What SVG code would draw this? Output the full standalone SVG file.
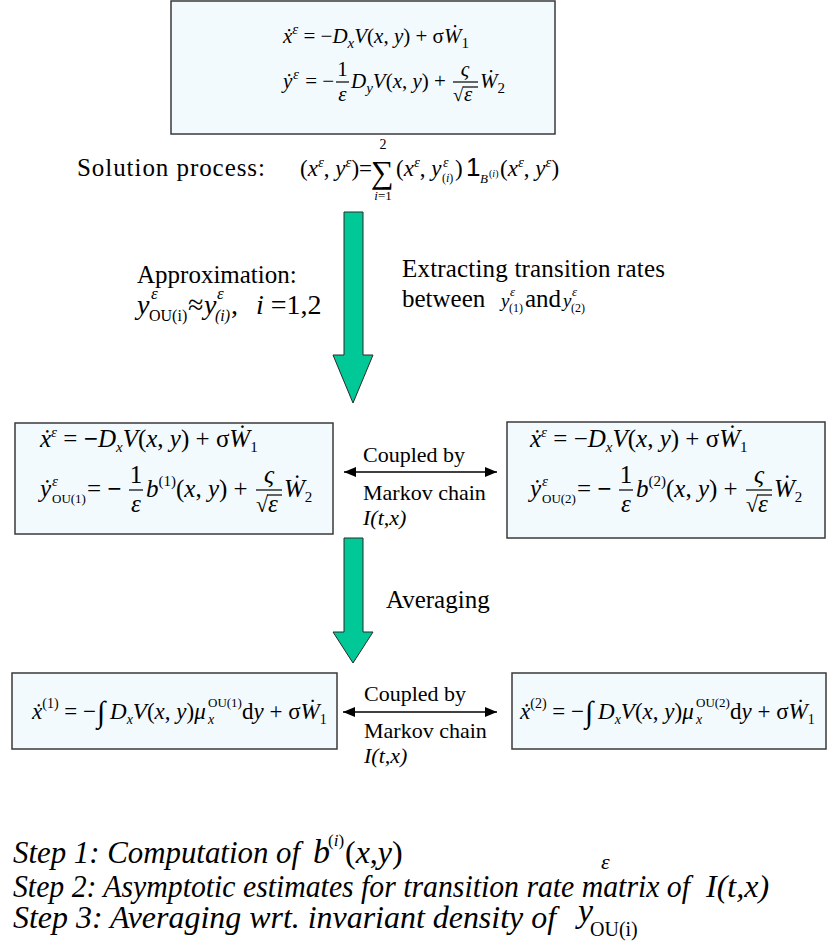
<svg xmlns="http://www.w3.org/2000/svg" width="828" height="942" viewBox="0 0 828 942">
<style>
.ki{font-style:italic}
.kbox{fill:#F3FAFD;stroke:#3a3a3a;stroke-width:1.5}
.kl{font-size:25px}
.kc{font-size:22px}
.ke{font-size:25px}
.kes{font-size:21px}
.ks{font-size:15px}
.kss{font-size:13px}
.kflow{fill:#00C896;stroke:#2a2a2a;stroke-width:1}
.klink{stroke:#000;stroke-width:1.4;fill:none;marker-start:url(#ah);marker-end:url(#ah)}
.kbar{stroke:#000;stroke-width:1.2}
.kst{font-size:32px;font-style:italic}
</style>
<defs>
<marker id="ah" viewBox="0 0 12 10" refX="12" refY="5" markerWidth="12" markerHeight="10" markerUnits="userSpaceOnUse" orient="auto-start-reverse"><path d="M0,0 L12,5 L0,10 z" fill="#000"/></marker>
</defs>

<g id="connectors">
<polygon class="kflow" points="344,212 363,212 363,355 373,355 353,403 333,355 344,355"/>
<polygon class="kflow" points="344,538 363,538 363,632 373,632 353,663 333,632 344,632"/>
<line class="klink" x1="344" y1="472" x2="497" y2="472"/>
<line class="klink" x1="343" y1="712" x2="497" y2="712"/>
</g>

<g id="top-system">
<rect class="kbox" x="171" y="1" width="384" height="133"/>
<text style="font-family:'Liberation Serif'" class="kes" x="283" y="43"><tspan class="ki">ẋ</tspan><tspan class="ki ks" dy="-9">ε</tspan><tspan dy="9"> = −</tspan><tspan class="ki">D</tspan><tspan class="ki ks" dy="5">x</tspan><tspan class="ki" dy="-5">V</tspan>(<tspan class="ki">x</tspan>, <tspan class="ki">y</tspan>) + σ<tspan class="ki">Ẇ</tspan><tspan class="ks" dy="5">1</tspan></text>
<text style="font-family:'Liberation Serif'" class="kes"><tspan x="283" y="88" class="ki">ẏ</tspan><tspan x="293" y="79" class="ki ks">ε</tspan><tspan x="300" y="88"> = −</tspan></text>
<line class="kbar" x1="336" y1="82" x2="349" y2="82"/>
<text style="font-family:'Liberation Serif'" class="kes" x="342.5" y="76" text-anchor="middle">1</text>
<text style="font-family:'Liberation Serif'" class="kes ki" x="342.5" y="101" text-anchor="middle">ε</text>
<text style="font-family:'Liberation Serif'" class="kes" x="351" y="88"><tspan class="ki">D</tspan><tspan class="ki ks" dy="5">y</tspan><tspan class="ki" dy="-5">V</tspan>(<tspan class="ki">x</tspan>, <tspan class="ki">y</tspan>) +</text>
<line class="kbar" x1="453" y1="82" x2="478" y2="82"/>
<text style="font-family:'Liberation Serif'" class="kes ki" x="465" y="76" text-anchor="middle">ς</text>
<text style="font-family:'Liberation Serif'" font-size="19" x="453" y="101">√</text>
<line class="kbar" x1="463" y1="87" x2="478" y2="87"/>
<text style="font-family:'Liberation Serif'" class="kes ki" x="464" y="101">ε</text>
<text style="font-family:'Liberation Serif'" class="kes" x="480" y="88"><tspan class="ki">Ẇ</tspan><tspan class="ks" dy="5">2</tspan></text>
</g>

<g id="solution-process">
<text style="font-family:'Liberation Serif'" class="kl" font-size="26" x="77" y="176" textLength="188" lengthAdjust="spacing">Solution process:</text>
<text style="font-family:'Liberation Serif'" font-size="23" x="300" y="176">(<tspan class="ki">x</tspan><tspan class="ki ks" dy="-9">ε</tspan><tspan dy="9">, </tspan><tspan class="ki">y</tspan><tspan class="ki ks" dy="-9">ε</tspan><tspan dy="9">)=</tspan></text>
<text style="font-family:'Liberation Serif'" font-size="32" x="371" y="183">∑</text>
<text style="font-family:'Liberation Serif'" font-size="14" x="383" y="149" text-anchor="middle">2</text>
<text style="font-family:'Liberation Serif'" font-size="13" x="383" y="200" text-anchor="middle"><tspan class="ki">i</tspan>=1</text>
<text style="font-family:'Liberation Serif'" font-size="23" x="396" y="176">(<tspan class="ki">x</tspan><tspan class="ki ks" dy="-9">ε</tspan><tspan dy="9">, </tspan><tspan class="ki">y</tspan></text>
<text style="font-family:'Liberation Serif'" class="ki" font-size="14" x="443" y="167">ε</text>
<text style="font-family:'Liberation Serif'" font-size="12" x="442" y="182">(<tspan class="ki">i</tspan>)</text>
<text style="font-family:'Liberation Serif'" font-size="23" x="455" y="176">)</text>
<text style="font-family:'Liberation Sans'" font-size="26" x="466" y="176">1</text>
<text style="font-family:'Liberation Serif'" class="ki" font-size="13" x="480" y="183">B</text>
<text style="font-family:'Liberation Serif'" font-size="10" x="489" y="177">(<tspan class="ki">i</tspan>)</text>
<text style="font-family:'Liberation Serif'" font-size="23" x="500" y="176">(<tspan class="ki">x</tspan><tspan class="ki ks" dy="-9">ε</tspan><tspan dy="9">, </tspan><tspan class="ki">y</tspan><tspan class="ki ks" dy="-9">ε</tspan><tspan dy="9">)</tspan></text>
</g>

<g id="approximation">
<text style="font-family:'Liberation Serif'" class="kl" x="137" y="283">Approximation:</text>
<text style="font-family:'Liberation Serif'" class="ki" font-size="28" x="137" y="314">y</text>
<text style="font-family:'Liberation Serif'" class="ki" font-size="17" x="151" y="299">ε</text>
<text style="font-family:'Liberation Serif'" font-size="16" x="149" y="321">OU(i)</text>
<text style="font-family:'Liberation Serif'" font-size="28" x="188" y="314">≈</text>
<text style="font-family:'Liberation Serif'" class="ki" font-size="28" x="204" y="314">y</text>
<text style="font-family:'Liberation Serif'" class="ki" font-size="17" x="217" y="299">ε</text>
<text style="font-family:'Liberation Serif'" class="ki" font-size="16" x="215" y="321">(i)</text>
<text style="font-family:'Liberation Serif'" font-size="28" x="231" y="314">,</text>
<text style="font-family:'Liberation Serif'" font-size="28" x="256" y="314"><tspan class="ki">i</tspan> =1,2</text>
</g>

<g id="extracting">
<text style="font-family:'Liberation Serif'" class="kl" x="402" y="277" textLength="263" lengthAdjust="spacing">Extracting transition rates</text>
<text style="font-family:'Liberation Serif'" class="kl" x="402" y="307">between</text>
<text style="font-family:'Liberation Serif'" class="ki" font-size="19" x="501" y="307">y</text>
<text style="font-family:'Liberation Serif'" class="ki" font-size="13" x="510" y="296">ε</text>
<text style="font-family:'Liberation Serif'" font-size="12" x="509" y="312">(1)</text>
<text style="font-family:'Liberation Serif'" class="kl" x="525" y="307">and</text>
<text style="font-family:'Liberation Serif'" class="ki" font-size="19" x="563" y="307">y</text>
<text style="font-family:'Liberation Serif'" class="ki" font-size="13" x="572" y="296">ε</text>
<text style="font-family:'Liberation Serif'" font-size="12" x="571" y="312">(2)</text>
</g>

<g id="ou-system-1">
<rect class="kbox" x="15" y="423" width="318" height="111"/>
<text style="font-family:'Liberation Serif'" class="ke" x="40" y="447"><tspan class="ki">ẋ</tspan><tspan class="ki ks" dy="-10">ε</tspan><tspan dy="10"> = </tspan><tspan font-weight="bold">−</tspan><tspan class="ki">D</tspan><tspan class="ki ks" dy="5">x</tspan><tspan class="ki" dy="-5">V</tspan>(<tspan class="ki">x</tspan>, <tspan class="ki">y</tspan>) + σ<tspan class="ki">Ẇ</tspan><tspan class="ks" dy="5">1</tspan></text>
<text style="font-family:'Liberation Serif'" class="ke ki" x="40" y="497">ẏ</text>
<text style="font-family:'Liberation Serif'" class="ki ks" x="52" y="486">ε</text>
<text style="font-family:'Liberation Serif'" class="kss" x="52" y="503">OU(1)</text>
<text style="font-family:'Liberation Serif'" class="ke" x="87" y="497"> = <tspan font-weight="bold">−</tspan></text>
<line class="kbar" x1="129" y1="490" x2="143" y2="490"/>
<text style="font-family:'Liberation Serif'" class="ke" x="136" y="483" text-anchor="middle">1</text>
<text style="font-family:'Liberation Serif'" class="ke ki" x="136" y="512" text-anchor="middle">ε</text>
<text style="font-family:'Liberation Serif'" class="ke" x="146" y="497"><tspan class="ki">b</tspan><tspan class="ks" dy="-11">(1)</tspan><tspan dy="11">(</tspan><tspan class="ki">x</tspan>, <tspan class="ki">y</tspan>) +</text>
<line class="kbar" x1="256" y1="490" x2="282" y2="490"/>
<text style="font-family:'Liberation Serif'" class="ke ki" x="269" y="483" text-anchor="middle">ς</text>
<text style="font-family:'Liberation Serif'" font-size="22" x="256" y="512">√</text>
<line class="kbar" x1="267" y1="495" x2="282" y2="495"/>
<text style="font-family:'Liberation Serif'" class="ke ki" x="268" y="512">ε</text>
<text style="font-family:'Liberation Serif'" class="ke" x="284" y="497"><tspan class="ki">Ẇ</tspan><tspan class="ks" dy="5">2</tspan></text>
</g>

<g id="coupling-1">
<text style="font-family:'Liberation Serif'" class="kc" x="363" y="462">Coupled by</text>
<text style="font-family:'Liberation Serif'" class="kc" x="363" y="500">Markov chain</text>
<text style="font-family:'Liberation Serif'" class="kc ki" x="363" y="525">I(t,x)</text>
</g>

<g id="ou-system-2">
<rect class="kbox" x="507" y="422" width="318" height="116"/>
<text style="font-family:'Liberation Serif'" class="ke" x="530" y="447"><tspan class="ki">ẋ</tspan><tspan class="ki ks" dy="-10">ε</tspan><tspan dy="10"> = −</tspan><tspan class="ki">D</tspan><tspan class="ki ks" dy="5">x</tspan><tspan class="ki" dy="-5">V</tspan>(<tspan class="ki">x</tspan>, <tspan class="ki">y</tspan>) + σ<tspan class="ki">Ẇ</tspan><tspan class="ks" dy="5">1</tspan></text>
<text style="font-family:'Liberation Serif'" class="ke ki" x="530" y="497">ẏ</text>
<text style="font-family:'Liberation Serif'" class="ki ks" x="542" y="486">ε</text>
<text style="font-family:'Liberation Serif'" class="kss" x="542" y="503">OU(2)</text>
<text style="font-family:'Liberation Serif'" class="ke" x="577" y="497"> = <tspan font-weight="bold">−</tspan></text>
<line class="kbar" x1="619" y1="490" x2="633" y2="490"/>
<text style="font-family:'Liberation Serif'" class="ke" x="626" y="483" text-anchor="middle">1</text>
<text style="font-family:'Liberation Serif'" class="ke ki" x="626" y="512" text-anchor="middle">ε</text>
<text style="font-family:'Liberation Serif'" class="ke" x="636" y="497"><tspan class="ki">b</tspan><tspan class="ks" dy="-11">(2)</tspan><tspan dy="11">(</tspan><tspan class="ki">x</tspan>, <tspan class="ki">y</tspan>) +</text>
<line class="kbar" x1="746" y1="490" x2="772" y2="490"/>
<text style="font-family:'Liberation Serif'" class="ke ki" x="759" y="483" text-anchor="middle">ς</text>
<text style="font-family:'Liberation Serif'" font-size="22" x="746" y="512">√</text>
<line class="kbar" x1="757" y1="495" x2="772" y2="495"/>
<text style="font-family:'Liberation Serif'" class="ke ki" x="758" y="512">ε</text>
<text style="font-family:'Liberation Serif'" class="ke" x="774" y="497"><tspan class="ki">Ẇ</tspan><tspan class="ks" dy="5">2</tspan></text>
</g>

<g id="averaging">
<text style="font-family:'Liberation Serif'" class="kl" x="386" y="608">Averaging</text>
</g>

<g id="avg-system-1">
<rect class="kbox" x="12" y="673" width="325" height="76"/>
<text style="font-family:'Liberation Serif'" font-size="23" x="32" y="719"><tspan class="ki">ẋ</tspan><tspan font-size="14" dy="-11">(1)</tspan><tspan dy="11"> = −</tspan></text>
<text style="font-family:'Liberation Serif'" font-size="30" x="97" y="722">∫</text>
<text style="font-family:'Liberation Serif'" font-size="23" x="110" y="719"><tspan class="ki">D</tspan><tspan class="ki" font-size="14" dy="5">x</tspan><tspan class="ki" dy="-5">V</tspan>(<tspan class="ki">x</tspan>, <tspan class="ki">y</tspan>)<tspan class="ki">μ</tspan></text>
<text style="font-family:'Liberation Serif'" class="ki" font-size="14" x="208" y="724">x</text>
<text style="font-family:'Liberation Serif'" font-size="13" x="208" y="707">OU(1)</text>
<text style="font-family:'Liberation Serif'" font-size="23" x="242" y="719">d<tspan class="ki">y</tspan> + σ<tspan class="ki">Ẇ</tspan><tspan font-size="14" dy="5">1</tspan></text>
</g>

<g id="coupling-2">
<text style="font-family:'Liberation Serif'" class="kc" x="364" y="701">Coupled by</text>
<text style="font-family:'Liberation Serif'" class="kc" x="364" y="738">Markov chain</text>
<text style="font-family:'Liberation Serif'" class="kc ki" x="364" y="763">I(t,x)</text>
</g>

<g id="avg-system-2">
<rect class="kbox" x="512" y="673" width="314" height="76"/>
<text style="font-family:'Liberation Serif'" font-size="23" x="520" y="719"><tspan class="ki">ẋ</tspan><tspan font-size="14" dy="-11">(2)</tspan><tspan dy="11"> = −</tspan></text>
<text style="font-family:'Liberation Serif'" font-size="30" x="585" y="722">∫</text>
<text style="font-family:'Liberation Serif'" font-size="23" x="598" y="719"><tspan class="ki">D</tspan><tspan class="ki" font-size="14" dy="5">x</tspan><tspan class="ki" dy="-5">V</tspan>(<tspan class="ki">x</tspan>, <tspan class="ki">y</tspan>)<tspan class="ki">μ</tspan></text>
<text style="font-family:'Liberation Serif'" class="ki" font-size="14" x="696" y="724">x</text>
<text style="font-family:'Liberation Serif'" font-size="13" x="696" y="707">OU(2)</text>
<text style="font-family:'Liberation Serif'" font-size="23" x="730" y="719">d<tspan class="ki">y</tspan> + σ<tspan class="ki">Ẇ</tspan><tspan font-size="14" dy="5">1</tspan></text>
</g>

<g id="steps">
<text style="font-family:'Liberation Serif'" class="kst" x="13" y="863" textLength="287" lengthAdjust="spacingAndGlyphs">Step 1: Computation of</text>
<text style="font-family:'Liberation Serif'" class="ki" font-size="34" x="313" y="863">b</text>
<text style="font-family:'Liberation Serif'" font-size="17" x="328" y="846">(<tspan class="ki">i</tspan>)</text>
<text style="font-family:'Liberation Serif'" font-size="32" x="345" y="863">(<tspan class="ki">x</tspan>,<tspan class="ki">y</tspan>)</text>
<text style="font-family:'Liberation Serif'" class="kst" x="13" y="897" textLength="677" lengthAdjust="spacingAndGlyphs">Step 2: Asymptotic estimates for transition rate matrix of</text>
<text style="font-family:'Liberation Serif'" class="kst" x="706" y="897">I(t,x)</text>
<text style="font-family:'Liberation Serif'" class="kst" x="13" y="928" textLength="543" lengthAdjust="spacingAndGlyphs">Step 3: Averaging wrt. invariant density of</text>
<text style="font-family:'Liberation Serif'" class="ki" font-size="34" x="578" y="922">y</text>
<text style="font-family:'Liberation Serif'" class="ki" font-size="22" x="601" y="869">ε</text>
<text style="font-family:'Liberation Serif'" font-size="20" x="590" y="936">OU(i)</text>
</g>
</svg>
